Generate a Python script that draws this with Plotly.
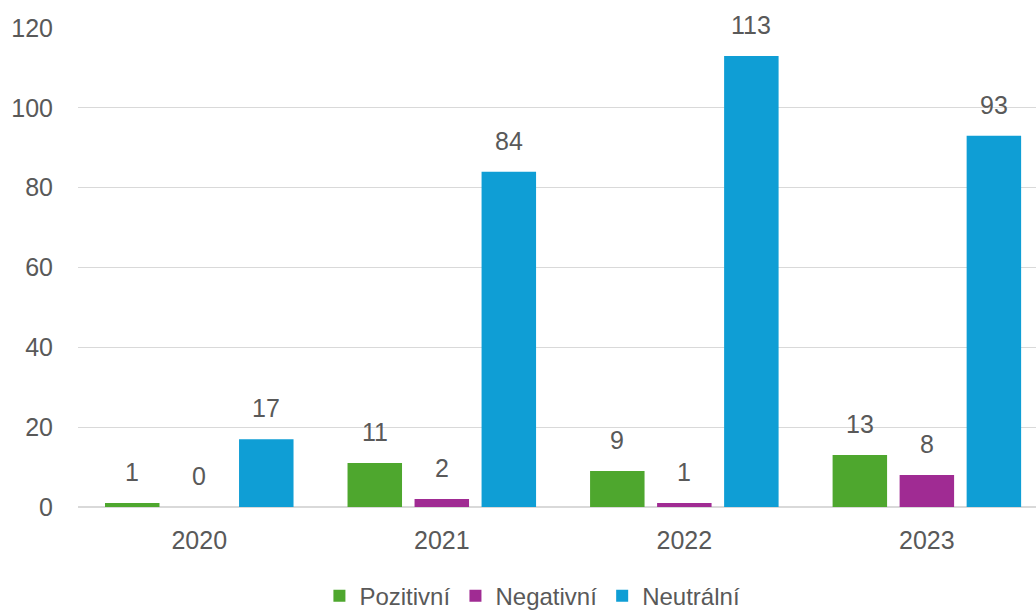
import plotly.graph_objects as go

years = ["2020", "2021", "2022", "2023"]
series_names = ["Pozitivní", "Negativní", "Neutrální"]
pozitivni = [1, 11, 9, 13]
negativni = [0, 2, 1, 8]
neutralni = [17, 84, 113, 93]
colors = ["#4ea72e", "#a02b93", "#0f9ed5"]
y_ticks = [0, 20, 40, 60, 80, 100, 120]

W, H = 1036, 612
ML, MR, MT, MB = 78, 0, 28, 105
x_range = [-0.5, 3.45]
bargap = 0.171
bargroupgap = 0.187
FONT = "Liberation Sans, Arial, sans-serif"
GREY = "#595959"

fig = go.Figure()
all_series = [pozitivni, negativni, neutralni]
for name, vals, col in zip(series_names, all_series, colors):
    fig.add_trace(go.Bar(
        x=years, y=vals, name=name,
        marker=dict(color=col, line=dict(width=0)),
    ))

# data labels above bars (category index used for annotation x)
plot_w = W - ML - MR
px_per_cat = plot_w / (x_range[1] - x_range[0])
slot = px_per_cat * (1 - bargap) / 3
for i, vals in enumerate(all_series):
    for j, v in enumerate(vals):
        fig.add_annotation(
            x=j, y=v, text=str(v), showarrow=False,
            xshift=(i - 1) * slot, yshift=15, yanchor="bottom",
            font=dict(size=25, color=GREY, family=FONT),
        )

fig.update_layout(
    width=W, height=H,
    margin=dict(l=ML, r=MR, t=MT, b=MB, autoexpand=False),
    plot_bgcolor="white", paper_bgcolor="white",
    barmode="group", bargap=bargap, bargroupgap=bargroupgap,
    font=dict(family=FONT, size=25, color=GREY),
    showlegend=True,
    legend=dict(
        orientation="h", x=0.252, xanchor="left",
        yref="container", y=0.026, yanchor="middle",
        font=dict(size=24, color=GREY), itemclick=False,
    ),
    xaxis=dict(
        type="category", range=x_range, showgrid=False, showline=False,
        ticks="", ticklabelstandoff=16, tickfont=dict(size=25, color=GREY),
    ),
    yaxis=dict(
        range=[0, 120], tickvals=y_ticks, showgrid=True, gridcolor="#d9d9d9", gridwidth=1,
        zeroline=True, zerolinecolor="#d9d9d9", zerolinewidth=2,
        showline=False, ticks="", ticklabelstandoff=24,
        tickfont=dict(size=25, color=GREY),
    ),
)

fig.write_html("out.html", config={"displayModeBar": False},
               post_script="document.body.style.margin='0';")
